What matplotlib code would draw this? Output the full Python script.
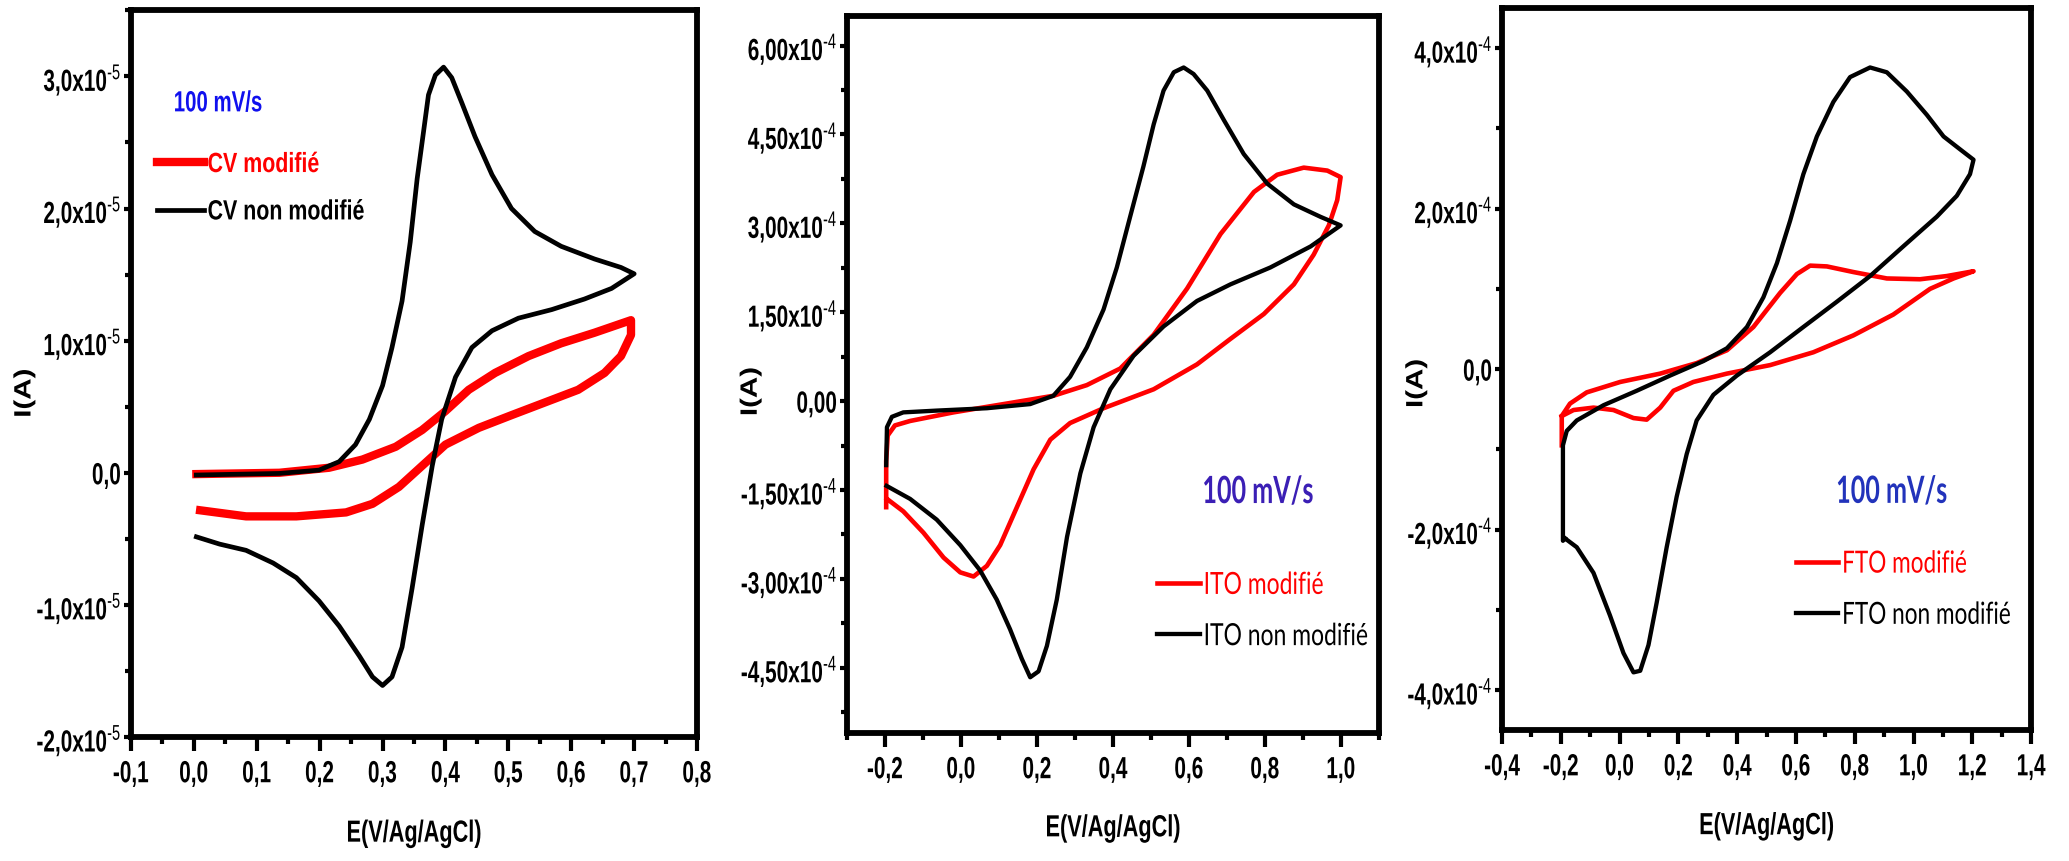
import numpy as np
import matplotlib.pyplot as plt
from matplotlib.ticker import FixedLocator, MultipleLocator
from matplotlib.patheffects import AbstractPathEffect
from matplotlib.transforms import Affine2D

plt.rcParams['font.family'] = ['Liberation Sans', 'DejaVu Sans']
plt.rcParams['mathtext.fontset'] = 'custom'
plt.rcParams['mathtext.rm'] = 'Liberation Sans'
plt.rcParams['axes.unicode_minus'] = False

# --- carbone vitreux (CV), courant en 1e-5 A ---
cv_nm_E = [0.004, 0.041, 0.083, 0.126, 0.163, 0.199, 0.231, 0.263, 0.284, 0.3, 0.315,
           0.331, 0.347, 0.363, 0.379, 0.394, 0.416, 0.442, 0.474, 0.516, 0.569,
           0.621, 0.664, 0.7,
           0.679, 0.637, 0.584, 0.542, 0.505, 0.474, 0.447, 0.426, 0.41, 0.397,
           0.384, 0.373, 0.365, 0.355, 0.344, 0.331, 0.315, 0.3, 0.279, 0.257,
           0.231, 0.199, 0.136, 0.004]
cv_nm_I = [-0.485, -0.54, -0.587, -0.683, -0.794, -0.97, -1.16, -1.386, -1.545, -1.61, -1.545,
           -1.32, -0.873, -0.395, 0.053, 0.404, 0.724, 0.948, 1.075, 1.17, 1.235,
           1.315, 1.395, 1.506,
           1.554, 1.618, 1.714, 1.826, 2.0, 2.256, 2.544, 2.80, 2.99, 3.07,
           3.01, 2.86, 2.576, 2.225, 1.746, 1.30, 0.948, 0.66, 0.404, 0.213,
           0.084, 0.02, -0.005, -0.017]
cv_m_E = [0.004, 0.136, 0.215, 0.268, 0.321, 0.363, 0.4, 0.437, 0.479, 0.532, 0.584,
          0.637, 0.695,
          0.695, 0.679, 0.653, 0.611, 0.558, 0.505, 0.453, 0.4, 0.363, 0.326, 0.284,
          0.242, 0.163, 0.083, 0.01]
cv_m_I = [-0.01, 0.0, 0.038, 0.10, 0.197, 0.324, 0.467, 0.628, 0.756, 0.883, 0.98,
          1.06, 1.155,
          1.043, 0.883, 0.756, 0.628, 0.532, 0.436, 0.34, 0.213, 0.053, -0.107, -0.235,
          -0.30, -0.33, -0.33, -0.284]

# --- ITO, courant en 1e-4 A ---
ito_nm_E = [-0.196, -0.134, -0.064, -0.002, 0.05, 0.094, 0.129, 0.16, 0.182, 0.204,
            0.226, 0.252, 0.279, 0.314, 0.349, 0.393, 0.454, 0.533, 0.621, 0.709,
            0.814, 0.92, 0.999,
            0.946, 0.876, 0.806, 0.744, 0.692, 0.648, 0.612, 0.586, 0.56, 0.533,
            0.507, 0.48, 0.445, 0.41, 0.375, 0.331, 0.287, 0.243, 0.182, 0.068,
            -0.064, -0.152, -0.182, -0.195, -0.197]
ito_nm_I = [-1.43, -1.65, -2.0, -2.43, -2.855, -3.35, -3.85, -4.35, -4.66, -4.56,
            -4.13, -3.35, -2.29, -1.22, -0.44, 0.20, 0.764, 1.26, 1.69, 1.97,
            2.255, 2.61, 2.965,
            3.11, 3.32, 3.67, 4.17, 4.74, 5.24, 5.52, 5.63, 5.55, 5.24,
            4.67, 3.96, 3.11, 2.255, 1.545, 0.907, 0.41, 0.09, -0.05, -0.12,
            -0.16, -0.19, -0.265, -0.44, -1.08]
ito_m_E = [-0.197, -0.197, -0.193, -0.174, -0.134, -0.02, 0.112, 0.243, 0.331, 0.419,
           0.507, 0.595, 0.683, 0.771, 0.832, 0.902, 0.964, 0.999,
           0.99, 0.968, 0.928, 0.876, 0.797, 0.709, 0.621, 0.507, 0.375, 0.287,
           0.235, 0.191, 0.147, 0.103, 0.068, 0.033, -0.002, -0.046, -0.099,
           -0.152, -0.195]
ito_m_I = [-1.79, -1.01, -0.58, -0.41, -0.335, -0.19, -0.05, 0.09, 0.27, 0.55,
           1.12, 1.90, 2.82, 3.53, 3.82, 3.94, 3.89, 3.78,
           3.39, 2.965, 2.47, 1.97, 1.47, 1.05, 0.62, 0.20, -0.12, -0.37,
           -0.65, -1.15, -1.79, -2.43, -2.78, -2.96, -2.89, -2.64, -2.22,
           -1.86, -1.65]

# --- FTO, courant en 1e-4 A ---
fto_nm_E = [-0.186, -0.193, -0.193, -0.18, -0.146, -0.055, 0.058, 0.172, 0.285, 0.365,
            0.433, 0.489, 0.535, 0.58, 0.625, 0.671, 0.727, 0.784, 0.852, 0.909,
            0.977, 1.045, 1.102, 1.158, 1.204,
            1.192, 1.147, 1.079, 0.965, 0.852, 0.739, 0.625, 0.512, 0.399, 0.319,
            0.262, 0.228, 0.194, 0.16, 0.126, 0.098, 0.07, 0.047, 0.013, -0.033,
            -0.089, -0.146, -0.186]
fto_nm_I = [-2.11, -2.14, -0.95, -0.77, -0.64, -0.45, -0.27, -0.08, 0.10, 0.26,
            0.525, 0.895, 1.32, 1.85, 2.43, 2.90, 3.33, 3.64, 3.76, 3.70,
            3.46, 3.17, 2.90, 2.74, 2.61,
            2.43, 2.16, 1.90, 1.53, 1.16, 0.84, 0.525, 0.21, -0.08, -0.32,
            -0.64, -1.06, -1.59, -2.22, -2.91, -3.44, -3.76, -3.78, -3.54, -3.07,
            -2.54, -2.22, -2.11]
fto_m_E = [-0.197, -0.197, -0.169, -0.112, 0.002, 0.138, 0.262, 0.365, 0.455, 0.546,
           0.603, 0.648, 0.705, 0.795, 0.909, 1.022, 1.113, 1.204,
           1.136, 1.056, 0.931, 0.795, 0.659, 0.512, 0.365, 0.251, 0.183, 0.138,
           0.092, 0.047, -0.021, -0.089, -0.157, -0.197]
fto_m_I = [-0.95, -0.585, -0.43, -0.29, -0.16, -0.056, 0.075, 0.235, 0.525, 0.95,
           1.185, 1.29, 1.28, 1.21, 1.13, 1.12, 1.16, 1.22,
           1.13, 1.00, 0.68, 0.42, 0.21, 0.05, -0.056, -0.16, -0.27, -0.48,
           -0.63, -0.61, -0.51, -0.48, -0.51, -0.585]

# tick values / labels
cv_xticks = [-0.1, 0.0, 0.1, 0.2, 0.3, 0.4, 0.5, 0.6, 0.7, 0.8]
cv_xlabels = ['-0,1', '0,0', '0,1', '0,2', '0,3', '0,4', '0,5', '0,6', '0,7', '0,8']
cv_yticks = [-2.0e-5, -1.0e-5, 0.0, 1.0e-5, 2.0e-5, 3.0e-5]
cv_ylabels = [r'-2,0x10$^{\text{-5}}$', r'-1,0x10$^{\text{-5}}$', '0,0',
              r'1,0x10$^{\text{-5}}$', r'2,0x10$^{\text{-5}}$', r'3,0x10$^{\text{-5}}$']

ito_xticks = [-0.2, 0.0, 0.2, 0.4, 0.6, 0.8, 1.0]
ito_xlabels = ['-0,2', '0,0', '0,2', '0,4', '0,6', '0,8', '1,0']
ito_yticks = [-4.5e-4, -3.0e-4, -1.5e-4, 0.0, 1.5e-4, 3.0e-4, 4.5e-4, 6.0e-4]
ito_ylabels = [r'-4,50x10$^{\text{-4}}$', r'-3,00x10$^{\text{-4}}$', r'-1,50x10$^{\text{-4}}$',
               '0,00', r'1,50x10$^{\text{-4}}$', r'3,00x10$^{\text{-4}}$',
               r'4,50x10$^{\text{-4}}$', r'6,00x10$^{\text{-4}}$']

fto_xticks = [-0.4, -0.2, 0.0, 0.2, 0.4, 0.6, 0.8, 1.0, 1.2, 1.4]
fto_xlabels = ['-0,4', '-0,2', '0,0', '0,2', '0,4', '0,6', '0,8', '1,0', '1,2', '1,4']
fto_yticks = [-4.0e-4, -2.0e-4, 0.0, 2.0e-4, 4.0e-4]
fto_ylabels = [r'-4,0x10$^{\text{-4}}$', r'-2,0x10$^{\text{-4}}$', '0,0',
               r'2,0x10$^{\text{-4}}$', r'4,0x10$^{\text{-4}}$']

RED = '#ff0000'
BLACK = '#000000'


class Squeeze(AbstractPathEffect):
    """Horizontally condense a text path; anchor = 0 left, 0.5 centre, 1 right."""

    def __init__(self, sx, anchor=0.0):
        super().__init__()
        self.sx = sx
        self.anchor = anchor

    def draw_path(self, renderer, gc, tpath, affine, rgbFace=None):
        w = tpath.get_extents().x1
        t = Affine2D().scale(self.sx, 1).translate((1 - self.sx) * w * self.anchor, 0) + affine
        renderer.draw_path(gc, tpath, t, rgbFace)


def setup(ax, xlim, ylim, xt, xl, yt, yl, xminor, yminor, ylab_x, ylab_y):
    ax.set_xlim(*xlim)
    ax.set_ylim(*ylim)
    ax.xaxis.set_major_locator(FixedLocator(xt))
    ax.set_xticklabels(xl)
    ax.yaxis.set_major_locator(FixedLocator(yt))
    ax.set_yticklabels(yl)
    ax.xaxis.set_minor_locator(MultipleLocator(xminor))
    ax.yaxis.set_minor_locator(MultipleLocator(yminor))
    for s in ax.spines.values():
        s.set_linewidth(4.2)
    ax.tick_params(axis='x', which='major', direction='out', length=10, width=3,
                   pad=6, labelsize=22)
    ax.tick_params(axis='x', which='minor', direction='out', length=5, width=3)
    ax.tick_params(axis='y', which='major', direction='out', length=5, width=3,
                   pad=2, labelsize=22)
    ax.tick_params(axis='y', which='minor', direction='out', length=4, width=3)
    for t in ax.get_xticklabels():
        t.set_fontweight('bold')
        t.set_path_effects([Squeeze(0.68, 0.5)])
    for t in ax.get_yticklabels():
        t.set_fontweight('bold')
        t.set_path_effects([Squeeze(0.68, 1.0)])
    ax.set_xlabel('E(V/Ag/AgCl)', fontsize=22, fontweight='bold')
    ax.xaxis.set_label_coords(0.5, -0.133)
    ax.xaxis.label.set_va('center')
    ax.xaxis.label.set_path_effects([Squeeze(0.71, 0.5)])
    ax.set_ylabel('I(A)', fontsize=17, fontweight='bold')
    ax.yaxis.set_label_coords(ylab_x, ylab_y)
    ax.yaxis.label.set_va('center')
    ax.yaxis.label.set_path_effects([Squeeze(1.25, 0.5)])


def add_legend(ax, handles, anchor, size, sx, family, weight, hlen, spacing):
    leg = ax.legend(handles=handles, loc='upper left', bbox_to_anchor=anchor,
                    frameon=False, handlelength=hlen, handletextpad=0.12,
                    labelspacing=spacing, borderpad=0, borderaxespad=0,
                    labelcolor='linecolor',
                    prop={'size': size, 'weight': weight, 'family': family})
    for t in leg.get_texts():
        t.set_path_effects([Squeeze(sx, 0.0)])
    return leg


fig = plt.figure(figsize=(20.69, 8.61), dpi=100)
ax1 = fig.add_axes([0.0633, 0.144, 0.2736, 0.844])
ax2 = fig.add_axes([0.4094, 0.1487, 0.2571, 0.8328])
ax3 = fig.add_axes([0.726, 0.152, 0.2557, 0.8386])

# CV
l1r, = ax1.plot(cv_m_E, np.array(cv_m_I) * 1e-5, color=RED, lw=6, label='CV modifié')
l1b, = ax1.plot(cv_nm_E, np.array(cv_nm_I) * 1e-5, color=BLACK, lw=3.4, label='CV non modifié')
setup(ax1, (-0.1, 0.8), (-2.0e-5, 3.5e-5), cv_xticks, cv_xlabels, cv_yticks, cv_ylabels,
      0.05, 0.5e-5, -0.189, 0.473)
ax1.text(0.154, 0.872, '100 mV/s', transform=ax1.transAxes, color='#1010ee',
         fontsize=21, fontweight='bold', ha='center', va='center',
         path_effects=[Squeeze(0.7, 0.5)])
add_legend(ax1, [l1r, l1b], (0.046, 0.805), 20, 0.77, 'Liberation Sans', 'bold', 1.7, 0.77)

# ITO
l2r, = ax2.plot(ito_m_E, np.array(ito_m_I) * 1e-4, color=RED, lw=3.3, label='ITO modifié')
l2b, = ax2.plot(ito_nm_E, np.array(ito_nm_I) * 1e-4, color=BLACK, lw=3.1, label='ITO non modifié')
setup(ax2, (-0.3, 1.1), (-5.6e-4, 6.5e-4), ito_xticks, ito_xlabels, ito_yticks, ito_ylabels,
      0.1, 0.75e-4, -0.182, 0.476)
ax2.text(0.773, 0.336, '100 mV/s', transform=ax2.transAxes, color='#3b1fb5',
         fontsize=27, fontweight='bold', family='Lato', ha='center', va='center',
         path_effects=[Squeeze(0.67, 0.5)])
add_legend(ax2, [l2r, l2b], (0.583, 0.226), 22, 0.75, 'Lato', 'normal', 1.4, 0.76)

# FTO
l3r, = ax3.plot(fto_m_E, np.array(fto_m_I) * 1e-4, color=RED, lw=3.3, label='FTO modifié')
l3b, = ax3.plot(fto_nm_E, np.array(fto_nm_I) * 1e-4, color=BLACK, lw=3.1, label='FTO non modifié')
setup(ax3, (-0.4, 1.4), (-4.5e-4, 4.5e-4), fto_xticks, fto_xlabels, fto_yticks, fto_ylabels,
      0.1, 1.0e-4, -0.163, 0.48)
ax3.text(0.737, 0.33, '100 mV/s', transform=ax3.transAxes, color='#2233bb',
         fontsize=27, fontweight='bold', family='Lato', ha='center', va='center',
         path_effects=[Squeeze(0.67, 0.5)])
add_legend(ax3, [l3r, l3b], (0.556, 0.25), 22, 0.74, 'Lato', 'normal', 1.38, 0.76)

fig.savefig('out.png', dpi=100)
